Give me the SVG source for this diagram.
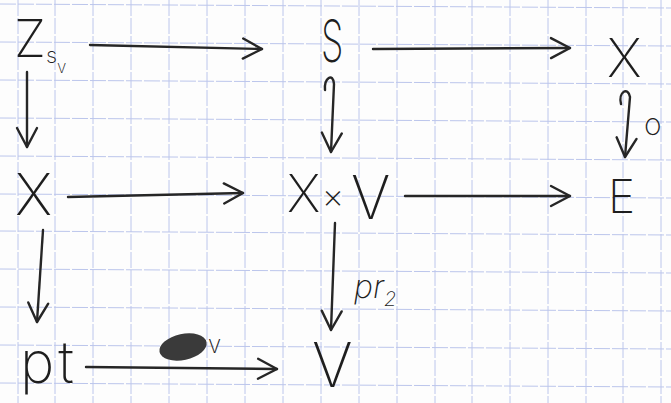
<svg xmlns="http://www.w3.org/2000/svg" width="671" height="403" viewBox="0 0 671 403">
<defs>
<style>
.grid line{stroke:#bcc6ec;stroke-width:1;stroke-dasharray:16 2}
.lbl{font-family:Inter,Roboto,"Liberation Sans",Arial,sans-serif;font-weight:200;fill:#1e1e1e}
.edge path{fill:none;stroke:#262626;stroke-width:2.4;stroke-linecap:round;stroke-linejoin:round}
</style>
<marker id="ah" viewBox="-22 -12 26 24" refX="0" refY="0" markerWidth="26" markerHeight="24" markerUnits="userSpaceOnUse" orient="auto">
<path d="M-19,-10 L0,0 L-19,10" fill="none" stroke="#262626" stroke-width="2.4" stroke-linecap="round" stroke-linejoin="round"/>
</marker>
</defs>
<rect width="671" height="403" fill="#fdfdfd"/>
<g class="grid">
<line x1="18" y1="0" x2="18" y2="403"/><line x1="55" y1="0" x2="55" y2="403"/><line x1="93" y1="0" x2="93" y2="403"/><line x1="131" y1="0" x2="131" y2="403"/><line x1="169" y1="0" x2="169" y2="403"/><line x1="207" y1="0" x2="207" y2="403"/><line x1="245" y1="0" x2="245" y2="403"/><line x1="283" y1="0" x2="283" y2="403"/><line x1="321" y1="0" x2="321" y2="403"/><line x1="359" y1="0" x2="359" y2="403"/><line x1="397" y1="0" x2="397" y2="403"/><line x1="435" y1="0" x2="435" y2="403"/><line x1="472" y1="0" x2="472" y2="403"/><line x1="510" y1="0" x2="510" y2="403"/><line x1="548" y1="0" x2="548" y2="403"/><line x1="586" y1="0" x2="586" y2="403"/><line x1="623" y1="0" x2="623" y2="403"/><line x1="661" y1="0" x2="661" y2="403"/>
<line x1="0" y1="4" x2="671" y2="8"/><line x1="0" y1="42" x2="671" y2="46"/><line x1="0" y1="80" x2="671" y2="84"/><line x1="0" y1="118" x2="671" y2="122"/><line x1="0" y1="156" x2="671" y2="160"/><line x1="0" y1="194" x2="671" y2="198"/><line x1="0" y1="231" x2="671" y2="235"/><line x1="0" y1="269" x2="671" y2="273"/><line x1="0" y1="307" x2="671" y2="311"/><line x1="0" y1="345" x2="671" y2="349"/><line x1="0" y1="383" x2="671" y2="387"/>
</g>
<g id="node-Z"><text class="lbl" x="14" y="57" font-size="52">Z<tspan font-size="22" dx="0" dy="6">s</tspan><tspan font-size="17" dy="10">v</tspan></text></g>
<g id="node-S"><text class="lbl" font-size="58" transform="translate(321,62) scale(0.62,1)">S</text></g>
<g id="node-X1"><text class="lbl" x="607" y="77" font-size="54">X</text></g>
<g id="node-X2"><text class="lbl" x="15" y="215" font-size="58">X</text></g>
<g id="node-XxV"><text class="lbl"><tspan x="287" y="212" font-size="52">X</tspan><tspan x="322" y="208" font-size="34">×</tspan><tspan x="351" y="219" font-size="60">V</tspan></text></g>
<g id="node-E"><text class="lbl" x="608" y="213" font-size="46">E</text></g>
<g id="node-pt"><text class="lbl" x="20" y="383" font-size="58" letter-spacing="4">pt</text></g>
<g id="node-V"><text class="lbl" x="312" y="387" font-size="62">V</text></g>
<g class="edge" id="edges">
<path d="M90,45 L262,49" marker-end="url(#ah)"/>
<path d="M373,49 L570,48" marker-end="url(#ah)"/>
<path d="M27,72 L27,147" marker-end="url(#ah)"/>
<path d="M325,90 C324,78 333,72 334,84 L331,152" marker-end="url(#ah)"/>
<path d="M621,104 C618,92 628,86 630,97 L625,157" marker-end="url(#ah)"/>
<path d="M68,197 L243,193" marker-end="url(#ah)"/>
<path d="M405,196 L570,196" marker-end="url(#ah)"/>
<path d="M43,230 L37,322" marker-end="url(#ah)"/>
<path d="M335,223 L331,330" marker-end="url(#ah)"/>
<path d="M86,367 L277,369" marker-end="url(#ah)"/>
<ellipse cx="183" cy="347" rx="24" ry="13" transform="rotate(-12 183 347)" fill="#3a3a3a"/>
<text class="lbl" x="644" y="135" font-size="30">o</text>
<text class="lbl" x="354" y="298" font-size="32" font-style="italic">pr<tspan font-size="20" dy="8">2</tspan></text>
<text class="lbl" x="208" y="353" font-size="24">v</text>
</g>
</svg>
